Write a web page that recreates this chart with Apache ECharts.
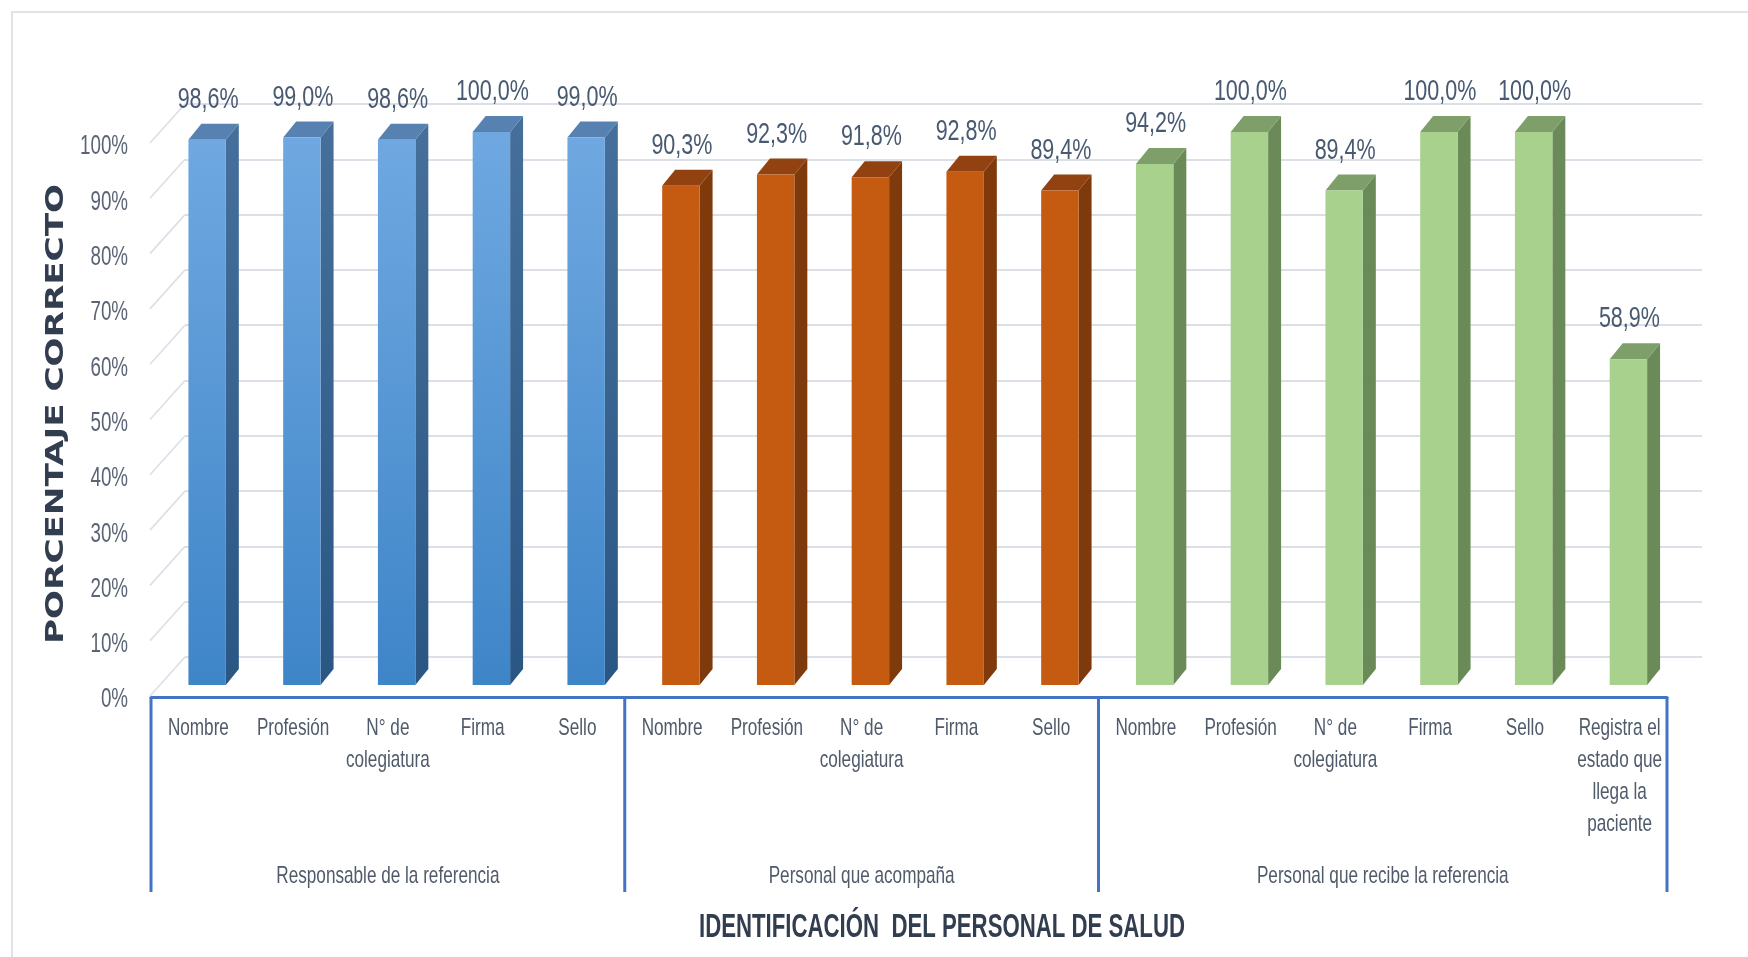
<!DOCTYPE html>
<html>
<head>
<meta charset="utf-8">
<script src="https://cdn.jsdelivr.net/npm/echarts@6/dist/echarts.min.js"></script>
<style>
  html, body { margin: 0; padding: 0; background: #ffffff; }
  #chart { width: 1748px; height: 957px; }
</style>
</head>
<body>
<div id="chart"></div>
<script>
// Categories along the floor of the chart (16 items in three groups)
const categories = [
  'Nombre', 'Profesión', 'N° de\ncolegiatura', 'Firma', 'Sello',
  'Nombre', 'Profesión', 'N° de\ncolegiatura', 'Firma', 'Sello',
  'Nombre', 'Profesión', 'N° de\ncolegiatura', 'Firma', 'Sello',
  'Registra el\nestado que\nllega la\npaciente'
];
const groupNames = ['Responsable de la referencia', 'Personal que acompaña', 'Personal que recibe la referencia'];

// Percentages per group
const responsableValues = [98.6, 99.0, 98.6, 100.0, 99.0];
const acompanaValues = [90.3, 92.3, 91.8, 92.8, 89.4];
const recibeValues = [94.2, 100.0, 89.4, 100.0, 100.0, 58.9];

// Y axis ticks (percent)
const yTicks = [0, 10, 20, 30, 40, 50, 60, 70, 80, 90, 100];

const yTitle = 'PORCENTAJE CORRECTO';
const xTitle = 'IDENTIFICACIÓN  DEL PERSONAL DE SALUD';

const SANS = '"Liberation Sans", Arial, sans-serif';
const TEXT_GRAY = '#4f5a6a';
const TICK_GRAY = '#5a6475';
const LABEL_BLUE = '#485a72';
const TITLE_NAVY = '#323e4f';
const GRID_GRAY = '#dcdfe6';
const AXIS_BLUE = '#4472c4';

function fmtPct(v) {
  return v.toFixed(1).replace('.', ',') + '%';
}

function textWidth(font, text) {
  const ctx = document.createElement('canvas').getContext('2d');
  ctx.font = font;
  return ctx.measureText(text).width;
}

// Condensed text: regular sans squeezed horizontally
const CAT_FONT = '24px ' + SANS;
const catScale = 61 / textWidth(CAT_FONT, 'Nombre');
const TICK_FONT = '27px ' + SANS;
const tickScale = 48 / textWidth(TICK_FONT, '100%');
const VAL_FONT = '29px ' + SANS;
const valScale = 61 / textWidth(VAL_FONT, '98,6%');
const yTitleFont = 'bold 25px "DejaVu Sans", sans-serif';
const yTitleScale = 460 / textWidth(yTitleFont, yTitle);
const xTitleFont = 'bold 34px ' + SANS;
const xTitleScale = 486 / textWidth(xTitleFont, xTitle);

// group ranges derived from the value arrays
const groupSeries = [responsableValues, acompanaValues, recibeValues];
const groupRanges = [];
let startIdx = 0;
groupSeries.forEach((vals, g) => {
  groupRanges.push([startIdx, startIdx + vals.length - 1, g]);
  startIdx += vals.length;
});

const palettes = [
  {
    front: new echarts.graphic.LinearGradient(0, 0, 0, 1, [
      { offset: 0, color: '#6fa8e1' }, { offset: 1, color: '#3e85c8' }
    ]),
    side: new echarts.graphic.LinearGradient(0, 0, 0, 1, [
      { offset: 0, color: '#46709b' }, { offset: 1, color: '#2a5684' }
    ]),
    top: '#5681b0'
  },
  { front: '#c55a11', side: '#7f3a0c', top: '#924210' },
  { front: '#a9d18e', side: '#6a8a57', top: '#7e9f69' }
];

function squeezedText(text, x, y, font, scale, fill, align, vAlign, lineHeight) {
  const style = {
    text: text, x: 0, y: 0, font: font, fill: fill,
    align: align, verticalAlign: vAlign
  };
  if (lineHeight) style.lineHeight = lineHeight;
  return { type: 'text', x: x, y: y, scaleX: scale, style: style };
}

// 3D-style column: front face, right side face and top face
function barRenderer(pal) {
  return function (params, api) {
    const idx = api.value(0);
    const v = api.value(1);
    const base = api.coord([idx, 0]);
    const top = api.coord([idx, v]);
    const band = api.size([1, 0])[0];
    const lift = 12;
    const w = band * 0.395;
    const dx = band * 0.137;
    const dy = 16;
    const x0 = base[0] - band * 0.105;
    const x1 = x0 + w;
    const yB = base[1] - lift;
    const yT = top[1] - lift;
    return {
      type: 'group',
      children: [
        {
          type: 'polygon',
          shape: { points: [[x1, yT], [x1 + dx, yT - dy], [x1 + dx, yB - dy], [x1, yB]] },
          style: { fill: pal.side }
        },
        {
          type: 'polygon',
          shape: { points: [[x0, yT], [x0 + dx, yT - dy], [x1 + dx, yT - dy], [x1, yT]] },
          style: { fill: pal.top }
        },
        {
          type: 'rect',
          shape: { x: x0, y: yT, width: w, height: yB - yT },
          style: { fill: pal.front }
        },
        squeezedText(fmtPct(v), x0 + w / 2 + 1, yT - 40, VAL_FONT, valScale, LABEL_BLUE, 'center', 'middle')
      ]
    };
  };
}

// Left side wall: diagonal lines from the front edge back to the wall grid, with tick labels
function wallRenderer(params, api) {
  const v = api.value(1);
  const p = api.coord([0, v]);
  const band = api.size([1, 0])[0];
  const xf = p[0] - band / 2;
  return {
    type: 'group',
    children: [
      {
        type: 'line',
        shape: { x1: xf - 1, y1: p[1] - 1, x2: xf + 34, y2: p[1] - 40 },
        style: { stroke: GRID_GRAY, lineWidth: 1.6 }
      },
      squeezedText(v + '%', xf - 23, p[1] + 3, TICK_FONT, tickScale, TICK_GRAY, 'right', 'middle')
    ]
  };
}

// Category names under the axis line
function categoryRenderer(params, api) {
  const i = api.value(0);
  const p = api.coord([i, 0]);
  return squeezedText(categories[i], p[0], p[1] + 15, CAT_FONT, catScale, TEXT_GRAY, 'center', 'top', 32);
}

// Group brackets below the axis and their names
function groupRenderer(params, api) {
  const s = api.value(0), e = api.value(1), g = api.value(2);
  const band = api.size([1, 0])[0];
  const ps = api.coord([s, 0]);
  const pe = api.coord([e, 0]);
  const left = ps[0] - band / 2;
  const right = pe[0] + band / 2;
  const yAxisLine = ps[1];
  const children = [
    {
      type: 'line',
      shape: { x1: left, y1: yAxisLine, x2: left, y2: yAxisLine + 195 },
      style: { stroke: AXIS_BLUE, lineWidth: 3 }
    },
    squeezedText(groupNames[g], (left + right) / 2, yAxisLine + 179, CAT_FONT, catScale, TEXT_GRAY, 'center', 'middle')
  ];
  if (g === groupNames.length - 1) {
    children.push({
      type: 'line',
      shape: { x1: right, y1: yAxisLine, x2: right, y2: yAxisLine + 195 },
      style: { stroke: AXIS_BLUE, lineWidth: 3 }
    });
  }
  return { type: 'group', children };
}

const chart = echarts.init(document.getElementById('chart'), null, { renderer: 'canvas' });

const barSeries = groupSeries.map((vals, g) => ({
  type: 'custom',
  name: groupNames[g],
  xAxisIndex: 0,
  yAxisIndex: 0,
  renderItem: barRenderer(palettes[g]),
  data: vals.map((v, k) => [groupRanges[g][0] + k, v]),
  encode: { x: 0, y: 1 },
  clip: false,
  z: 3
}));

chart.setOption({
  backgroundColor: '#ffffff',
  animation: false,
  grid: [
    { left: 151, width: 1516, top: 144, height: 553, containLabel: false },
    { left: 185, width: 1517, top: 104, height: 553, containLabel: false }
  ],
  xAxis: [
    {
      type: 'category',
      gridIndex: 0,
      data: categories,
      axisLine: { show: true, lineStyle: { color: AXIS_BLUE, width: 3 } },
      axisTick: { show: false },
      axisLabel: { show: false },
      splitLine: { show: false }
    },
    {
      type: 'category',
      gridIndex: 1,
      data: categories,
      show: false
    }
  ],
  yAxis: [
    {
      type: 'value',
      gridIndex: 0,
      min: 0,
      max: 100,
      interval: 10,
      axisLine: { show: false },
      axisTick: { show: false },
      splitLine: { show: false },
      axisLabel: { show: false }
    },
    {
      type: 'value',
      gridIndex: 1,
      min: 0,
      max: 100,
      interval: 10,
      axisLine: { show: false },
      axisTick: { show: false },
      axisLabel: { show: false },
      splitLine: { show: true, lineStyle: { color: GRID_GRAY, width: 2 } }
    }
  ],
  graphic: [
    {
      type: 'rect',
      silent: true,
      shape: { x: 12, y: 12, width: 1800, height: 1000 },
      style: { fill: 'none', stroke: '#dfe2e7', lineWidth: 2 }
    },
    {
      type: 'text',
      x: 56,
      y: 414,
      rotation: Math.PI / 2,
      scaleX: yTitleScale,
      style: {
        text: yTitle,
        font: yTitleFont,
        fill: TITLE_NAVY,
        align: 'center',
        verticalAlign: 'middle'
      }
    },
    {
      type: 'text',
      x: 942,
      y: 928,
      scaleX: xTitleScale,
      style: {
        text: xTitle,
        font: xTitleFont,
        fill: TITLE_NAVY,
        align: 'center',
        verticalAlign: 'middle'
      }
    }
  ],
  series: [
    {
      type: 'custom',
      name: 'wall',
      xAxisIndex: 0,
      yAxisIndex: 0,
      silent: true,
      renderItem: wallRenderer,
      data: yTicks.map(v => [0, v]),
      encode: { x: 0, y: 1 },
      clip: false,
      z: 1
    },
    ...barSeries,
    {
      type: 'custom',
      name: 'categories',
      xAxisIndex: 0,
      yAxisIndex: 0,
      silent: true,
      renderItem: categoryRenderer,
      data: categories.map((c, i) => [i, 0]),
      encode: { x: 0, y: 1 },
      clip: false,
      z: 2
    },
    {
      type: 'custom',
      name: 'groups',
      xAxisIndex: 0,
      yAxisIndex: 0,
      silent: true,
      renderItem: groupRenderer,
      data: groupRanges,
      encode: { x: 0 },
      clip: false,
      z: 2
    }
  ]
});
</script>
</body>
</html>
